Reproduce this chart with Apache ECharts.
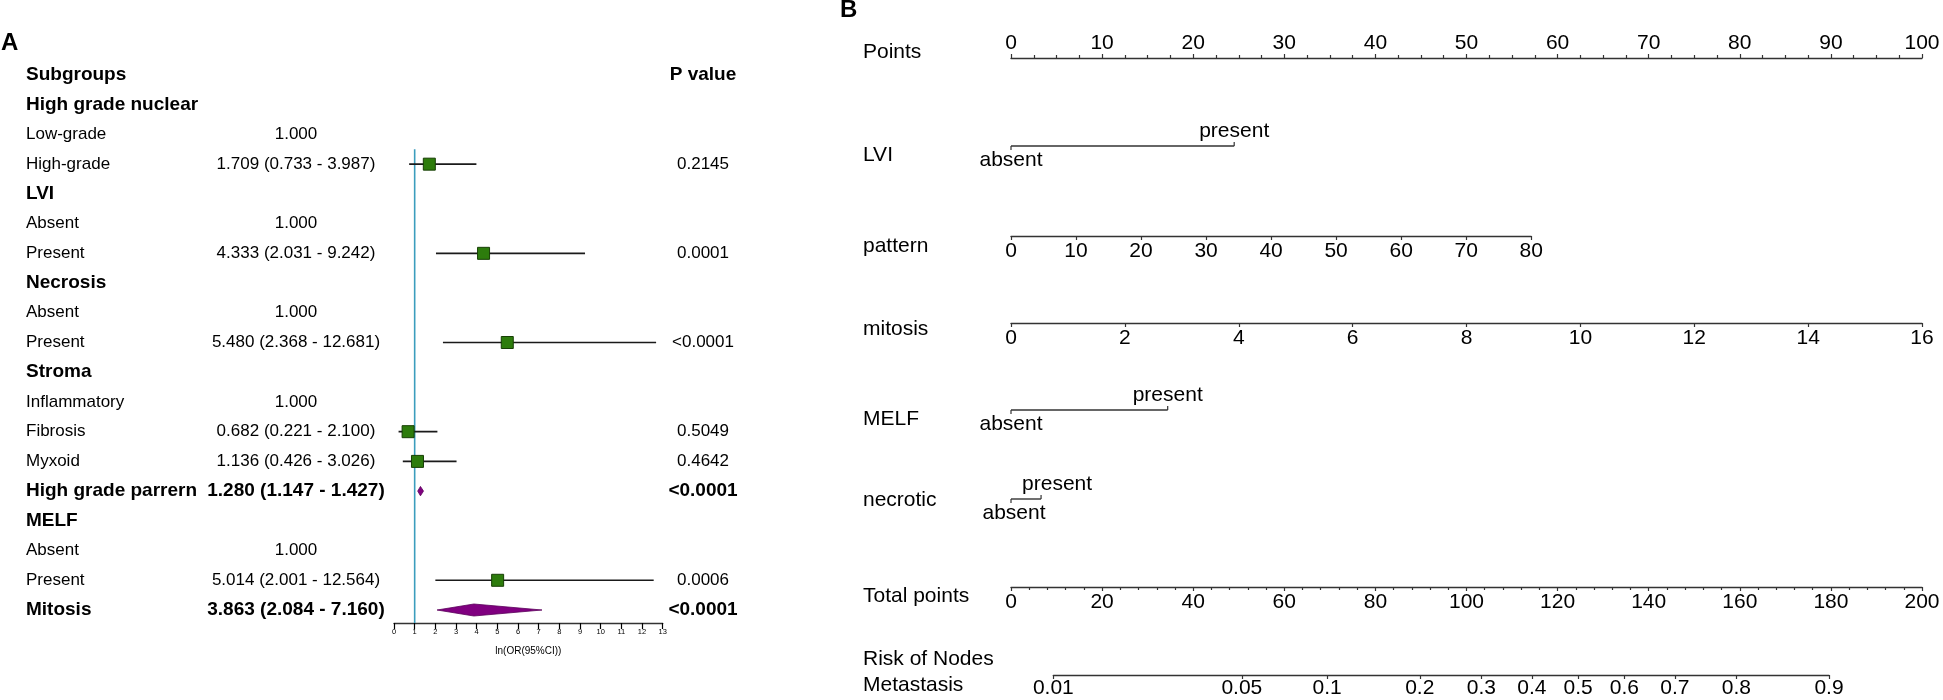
<!DOCTYPE html>
<html><head><meta charset="utf-8">
<script src="https://cdn.jsdelivr.net/npm/echarts@6/dist/echarts.min.js"></script>
<style>html,body{margin:0;padding:0;background:#fff}#c{width:1943px;height:700px}</style>
</head><body><div id="c"></div>
<script>
// ================= DATA =================
// Panel A: forest plot
const subgroupLabels = ['Subgroups','High grade nuclear','Low-grade','High-grade','LVI','Absent','Present','Necrosis','Absent','Present','Stroma','Inflammatory','Fibrosis','Myxoid','High grade parrern','MELF','Absent','Present','Mitosis'];
const boldRows   = [1,1,0,0,1,0,0,1,0,0,1,0,0,0,1,1,0,0,1];
const oddsRatio  = [null,null,1.000,1.709,null,1.000,4.333,null,1.000,5.480,null,1.000,0.682,1.136,1.280,null,1.000,5.014,3.863];
const ciLower    = [null,null,null,0.733,null,null,2.031,null,null,2.368,null,null,0.221,0.426,1.147,null,null,2.001,2.084];
const ciUpper    = [null,null,null,3.987,null,null,9.242,null,null,12.681,null,null,2.100,3.026,1.427,null,null,12.564,7.160];
const pValues    = ['P value','','','0.2145','','','0.0001','','','<0.0001','','','0.5049','0.4642','<0.0001','','','0.0006','<0.0001'];
const forestAxisRange = [0, 13];
const forestAxisName = 'ln(OR(95%CI))';
const referenceOR = 1;

// Panel B: nomogram
const nomogramRowNames = ['Points','LVI','pattern','mitosis','MELF','necrotic','Total points','Risk of Nodes\nMetastasis'];
const pointsRange = [0, 100];
const lviLevels = ['absent','present'];      const lviPoints = [0, 24.5];
const melfLevels = ['absent','present'];     const melfPoints = [0, 17.2];
const necroticLevels = ['absent','present']; const necroticPoints = [0, 3.3];
const patternRange = [0, 80];  const patternMaxPoints = 57.1;
const mitosisRange = [0, 16];  const mitosisMaxPoints = 100;
const totalPointsRange = [0, 200];
const riskTicks = [0.01,0.05,0.1,0.2,0.3,0.4,0.5,0.6,0.7,0.8,0.9];
const riskPointsAtHalf = 124.5;     // total points where risk = 0.5
const riskPointsPerLogit = 25.07;   // total points per unit of logit(risk)

// ================= LAYOUT / STYLE =================
const FONT = "'Liberation Sans', Arial, Helvetica, sans-serif";
const LINE = '#333';
const A = {gridLeft:394, gridWidth:268.7, gridTop:75, gridHeight:548, yMax:18.437,
           labelX:26, orX:296, pX:703, refStartRow:2.5};
const B = {left:1011, width:911, labelX:863,
           axisY:{points:58, lvi:146, pattern:236, mitosis:323, melf:410, necrotic:499, total:587, risk:675},
           labelY:[52,155,246,329,419,500,596,672]};

const logit = p => Math.log(p/(1-p));
const riskToTotal = p => riskPointsAtHalf + riskPointsPerLogit*logit(p);
const totalToPx = tp => B.left + B.width*(tp - totalPointsRange[0])/(totalPointsRange[1]-totalPointsRange[0]);

function gridAt(y, left, width, top) {
  return top ? {left, width, top:y, height:10, outerBoundsMode:'none', containLabel:false}
             : {left, width, top:y-10, height:10, outerBoundsMode:'none', containLabel:false};
}
function nAxis(gi, min, max, opts) {
  opts = opts || {};
  return {
    gridIndex:gi, type:'value', min, max, interval:opts.interval, position:opts.position||'bottom',
    splitLine:{show:false},
    axisLine:{show:true, onZero:false, lineStyle:{color:LINE, width:1.4}},
    axisTick:Object.assign({show:true, length:4, lineStyle:{color:LINE, width:1.2}}, opts.tick||{}),
    minorTick:opts.minor ? {show:true, splitNumber:opts.minor, length:3, lineStyle:{color:LINE, width:1.2}} : {show:false},
    axisLabel:Object.assign({show:true, color:'#000', fontSize:21, fontFamily:FONT, margin:opts.margin==null?5:opts.margin}, opts.label||{})
  };
}

// ================= GRIDS =================
const riskLeft = totalToPx(riskToTotal(riskTicks[0]));
const riskRight = totalToPx(riskToTotal(riskTicks[riskTicks.length-1]));
const grids = [
  {left:A.gridLeft, width:A.gridWidth, top:A.gridTop, height:A.gridHeight, outerBoundsMode:'none', containLabel:false},
  gridAt(B.axisY.points, B.left, B.width, true),
  gridAt(B.axisY.pattern, B.left, B.width*patternMaxPoints/(pointsRange[1]-pointsRange[0])),
  gridAt(B.axisY.mitosis, B.left, B.width*mitosisMaxPoints/(pointsRange[1]-pointsRange[0])),
  gridAt(B.axisY.total, B.left, B.width),
  gridAt(B.axisY.risk, riskLeft, riskRight-riskLeft),
  gridAt(B.axisY.lvi, B.left, B.width),
  gridAt(B.axisY.melf, B.left, B.width),
  gridAt(B.axisY.necrotic, B.left, B.width)
];

const xAxes = [
  Object.assign(nAxis(0, forestAxisRange[0], forestAxisRange[1], {interval:1, margin:5,
      tick:{length:6, lineStyle:{color:'#000', width:1.2}}, label:{fontSize:7.5}}),
    {name:forestAxisName, nameLocation:'middle', nameGap:23, nameTextStyle:{fontSize:10, color:'#000', fontFamily:FONT}}),
  nAxis(1, pointsRange[0], pointsRange[1], {interval:10, position:'top', minor:4, margin:4}),
  nAxis(2, patternRange[0], patternRange[1], {interval:10}),
  nAxis(3, mitosisRange[0], mitosisRange[1], {interval:2}),
  nAxis(4, totalPointsRange[0], totalPointsRange[1], {interval:20, minor:5}),
  nAxis(5, logit(riskTicks[0]), logit(riskTicks[riskTicks.length-1]), {
      margin:3,
      tick:{customValues:riskTicks.map(logit)},
      label:{customValues:riskTicks.map(logit), formatter:v => {
        const r = riskTicks.find(t => Math.abs(logit(t)-v) < 1e-6); return r==null ? '' : String(r);
      }}}),
  {gridIndex:6, type:'value', min:pointsRange[0], max:pointsRange[1], show:false},
  {gridIndex:7, type:'value', min:pointsRange[0], max:pointsRange[1], show:false},
  {gridIndex:8, type:'value', min:pointsRange[0], max:pointsRange[1], show:false}
];
const yAxes = grids.map((g,i) => i===0
  ? {gridIndex:0, type:'value', inverse:true, min:0, max:A.yMax, show:false}
  : {gridIndex:i, type:'value', min:0, max:1, show:false});

// ================= SERIES: Panel A =================
const rows = subgroupLabels.map((_, i) => i);
const ciRows = rows.filter(i => ciLower[i] != null);
const squareRows = ciRows.filter(i => !boldRows[i]);
const diamondRows = ciRows.filter(i => boldRows[i]);
const fmt = v => v.toFixed(3);
const orText = i => oddsRatio[i]==null ? '' :
  (ciLower[i]==null ? fmt(oddsRatio[i]) : `${fmt(oddsRatio[i])} (${fmt(ciLower[i])} - ${fmt(ciUpper[i])})`);

const series = [];
series.push({
  type:'line', xAxisIndex:0, yAxisIndex:0, z:1, symbol:'none', silent:true,
  data:[[referenceOR, A.refStartRow],[referenceOR, A.yMax]],
  lineStyle:{color:'#3b9dbd', width:1.6}
});
series.push({
  type:'custom', xAxisIndex:0, yAxisIndex:0, z:2, clip:false, silent:true,
  data:squareRows.map(i => [ciLower[i], ciUpper[i], i]),
  renderItem:(p, api) => {
    const a = api.coord([api.value(0), api.value(2)]), b = api.coord([api.value(1), api.value(2)]);
    return {type:'line', shape:{x1:a[0], y1:a[1], x2:b[0], y2:b[1]}, style:{stroke:'#1a1a1a', lineWidth:1.6}};
  }
});
series.push({
  type:'scatter', xAxisIndex:0, yAxisIndex:0, z:3, symbol:'rect', symbolSize:12, silent:true,
  data:squareRows.map(i => [oddsRatio[i], i]),
  itemStyle:{color:'#2d7c0c', borderColor:'#173f05', borderWidth:1, opacity:1}
});
series.push({
  type:'custom', xAxisIndex:0, yAxisIndex:0, z:3, clip:false, silent:true,
  data:diamondRows.map(i => [ciLower[i], oddsRatio[i], ciUpper[i], i]),
  renderItem:(p, api) => {
    const r = api.value(3);
    const l = api.coord([api.value(0), r]), c = api.coord([api.value(1), r]), h = api.coord([api.value(2), r]);
    const hh = (h[0]-l[0]) > 20 ? 6 : 4.7;
    return {type:'polygon', shape:{points:[[l[0],l[1]],[c[0],c[1]-hh],[h[0],h[1]],[c[0],c[1]+hh]]},
            style:{fill:'#800080', stroke:'#5a005a', lineWidth:0.8}};
  }
});
series.push({
  type:'custom', xAxisIndex:0, yAxisIndex:0, z:4, clip:false, silent:true,
  data:rows.map(i => [0, i]),
  renderItem:(p, api) => {
    const i = api.value(1);
    const y = api.coord([0, i])[1];
    const bold = !!boldRows[i];
    const base = {fill:'#000', fontFamily:FONT, fontWeight:bold?'bold':'normal', fontSize:bold?19:17, verticalAlign:'middle'};
    return {type:'group', children:[
      {type:'text', style:Object.assign({}, base, {text:subgroupLabels[i], x:A.labelX, y, align:'left'})},
      {type:'text', style:Object.assign({}, base, {text:orText(i), x:A.orX, y, align:'center'})},
      {type:'text', style:Object.assign({}, base, {text:pValues[i], x:A.pX, y, align:'center'})}
    ]};
  }
});

// ================= SERIES: Panel B categorical axes =================
function catSeries(gi, levels, pts, shift) {
  return {
    type:'custom', xAxisIndex:gi, yAxisIndex:gi, clip:false, silent:true, z:3,
    data:levels.map((l, i) => [pts[i], 0, i]),
    renderItem:(p, api) => {
      const i = api.value(2);
      const c = api.coord([api.value(0), 0]);
      const up = i % 2 === 1;
      const ch = [];
      if (i === 0) {
        const e = api.coord([pts[pts.length-1], 0]);
        ch.push({type:'line', shape:{x1:c[0], y1:c[1], x2:e[0], y2:c[1]}, style:{stroke:LINE, lineWidth:1.4}});
      }
      ch.push({type:'line', shape:{x1:c[0], y1:c[1], x2:c[0], y2:c[1]+(up?-4:4)}, style:{stroke:LINE, lineWidth:1.2}});
      ch.push({type:'text', style:{text:levels[i], x:c[0]+((shift&&shift[i])||0), y:c[1]+(up?-15:14),
        align:'center', verticalAlign:'middle', fontSize:21, fontFamily:FONT, fill:'#000'}});
      return {type:'group', children:ch};
    }
  };
}
series.push(catSeries(6, lviLevels, lviPoints));
series.push(catSeries(7, melfLevels, melfPoints));
series.push(catSeries(8, necroticLevels, necroticPoints, [3, 16]));

// ================= GRAPHIC TEXT =================
const graphic = [
  {type:'text', x:1, y:43, style:{text:'A', fontSize:24, fontWeight:'bold', fontFamily:FONT, fill:'#000', verticalAlign:'middle'}},
  {type:'text', x:840, y:10, style:{text:'B', fontSize:24, fontWeight:'bold', fontFamily:FONT, fill:'#000', verticalAlign:'middle'}}
].concat(nomogramRowNames.map((n, i) => ({
  type:'text', x:B.labelX, y:B.labelY[i],
  style:{text:n, fontSize:21, fontFamily:FONT, fill:'#000', verticalAlign:'middle', align:'left', lineHeight:26}
})));

const chart = echarts.init(document.getElementById('c'), null, {renderer:'canvas'});
chart.setOption({
  animation:false, backgroundColor:'#fff',
  grid:grids, xAxis:xAxes, yAxis:yAxes, series, graphic
});
</script></body></html>
